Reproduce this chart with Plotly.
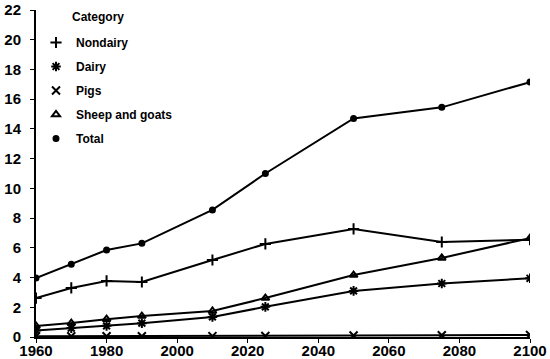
import plotly.graph_objects as go

years = [1960, 1970, 1980, 1990, 2010, 2025, 2050, 2075, 2100]
nondairy = [2.62, 3.3, 3.77, 3.7, 5.18, 6.26, 7.27, 6.39, 6.55]
dairy = [0.43, 0.6, 0.75, 0.93, 1.35, 2.03, 3.1, 3.6, 3.95]
pigs = [0.05, 0.05, 0.05, 0.05, 0.06, 0.07, 0.1, 0.12, 0.14]
sheep_goats = [0.74, 0.94, 1.2, 1.41, 1.75, 2.62, 4.17, 5.32, 6.65]
total = [3.97, 4.9, 5.85, 6.3, 8.55, 11.0, 14.7, 15.45, 17.15]

series = [
    ("Nondairy", nondairy, "cross-thin", 8),
    ("Dairy", dairy, "asterisk", 8),
    ("Pigs", pigs, "x-thin", 8),
    ("Sheep and goats", sheep_goats, "triangle-up-open", 7),
    ("Total", total, "circle", 5),
]

fig = go.Figure()
for name, vals, sym, sz in series:
    fig.add_trace(go.Scatter(
        x=years, y=vals, mode="lines", showlegend=False, hoverinfo="skip",
        line=dict(color="black", width=2),
    ))
    fig.add_trace(go.Scatter(
        x=years, y=vals, name=name, mode="markers", legendgroup=name,
        marker=dict(symbol=sym, size=sz, color="black",
                    line=dict(color="black", width=2)),
    ))

tick_font = dict(family="Liberation Sans, Arial, sans-serif",
                 size=15, color="black", weight="bold")

W, H = 550, 359
L, T, R, B = 36, 10, 20, 22
pw, ph = W - L - R, H - T - B

fig.update_layout(
    width=W, height=H,
    margin=dict(l=L, r=R, t=T, b=B),
    paper_bgcolor="white", plot_bgcolor="white",
    font=dict(family="Liberation Sans, Arial, sans-serif", size=12, color="black"),
    showlegend=True,
    legend=dict(
        x=(36 - L) / pw, y=(337 - 28) / ph, xanchor="left", yanchor="top",
        bgcolor="rgba(0,0,0,0)",
        font=dict(size=12, weight="bold"),
        itemsizing="trace", tracegroupgap=5,
    ),
    annotations=[dict(
        text="<b>Category</b>", xref="paper", yref="paper",
        x=(70 - L) / pw, y=(337 - 17) / ph, xanchor="left", yanchor="middle",
        showarrow=False, font=dict(size=12),
    )],
    xaxis=dict(
        range=[1960, 2100], tickmode="array",
        tickvals=[1960, 1980, 2000, 2020, 2040, 2060, 2080, 2100],
        showgrid=False, zeroline=False, showline=True, linecolor="black",
        linewidth=2, ticks="outside", ticklen=4, tickwidth=1, tickcolor="black",
        tickfont=tick_font, automargin=False, ticklabelstandoff=-5,
    ),
    yaxis=dict(
        range=[0, 22], tickmode="array", tickvals=list(range(0, 23, 2)),
        showgrid=False, zeroline=False, showline=True, linecolor="black",
        linewidth=2, ticks="outside", ticklen=4, tickwidth=1, tickcolor="black",
        tickfont=tick_font, automargin=False, ticklabelstandoff=6,
    ),
)

fig.write_html("out.html", config={"displayModeBar": False},
               post_script="document.body.style.margin='0';")
